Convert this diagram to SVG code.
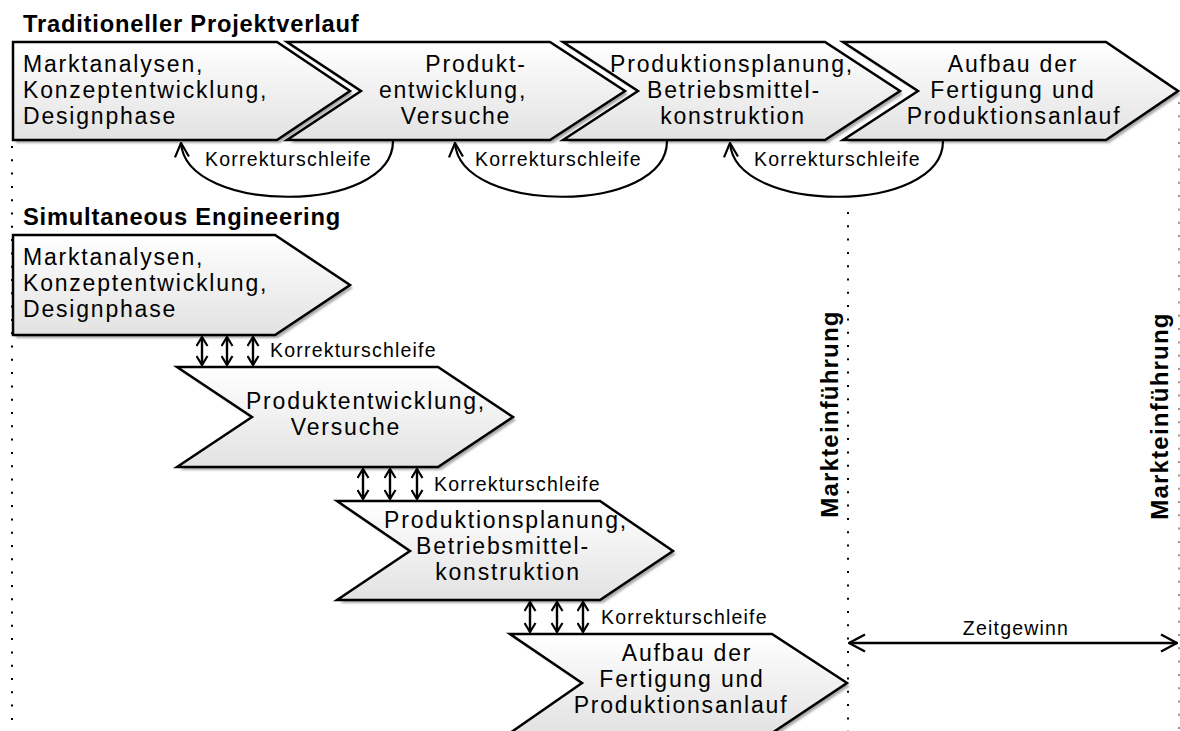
<svg xmlns="http://www.w3.org/2000/svg" width="1180" height="731" viewBox="0 0 1180 731">
  <style>
    .chev { fill: url(#chevFill); stroke: #000; stroke-width: 2.5; stroke-linejoin: miter; }
    .shadow { fill: #a8a8a8; filter: url(#soft); }
    .txt { font-family: "Liberation Sans", Arial, sans-serif; font-size: 23px; letter-spacing: 1.8px; fill: #000; }
    .mid { text-anchor: middle; }
    .small { font-family: "Liberation Sans", Arial, sans-serif; font-size: 19.5px; letter-spacing: 1.2px; fill: #000; }
    .head { font-family: "Liberation Sans", Arial, sans-serif; font-size: 23.7px; font-weight: bold; letter-spacing: 0.8px; fill: #000; }
    .vert { font-size: 24px; letter-spacing: 1.2px; }
    .dots { stroke: #000; stroke-width: 2; stroke-dasharray: 2 11.3; fill: none; }
    .loop { fill: none; stroke: #000; stroke-width: 2.2; }
    .dbl { stroke: #000; stroke-width: 2.4; marker-start: url(#tipS); marker-end: url(#tipS); }
  </style>
  <defs>
    <linearGradient id="chevFill" x1="0" y1="0" x2="0" y2="1">
      <stop offset="0" stop-color="#ffffff"/>
      <stop offset="1" stop-color="#e2e2e2"/>
    </linearGradient>
    <filter id="soft" x="-5%" y="-10%" width="110%" height="120%">
      <feGaussianBlur stdDeviation="1"/>
    </filter>
    <!-- open V arrowheads -->
    <marker id="tipS" viewBox="0 0 11 13" refX="10" refY="6.5" markerWidth="11" markerHeight="13" orient="auto-start-reverse" markerUnits="userSpaceOnUse">
      <path d="M1,1 L10,6.5 L1,12" fill="none" stroke="#000" stroke-width="2.2"/>
    </marker>
    <marker id="tipM" viewBox="0 0 16 16" refX="15" refY="8" markerWidth="16" markerHeight="16" orient="auto" markerUnits="userSpaceOnUse">
      <path d="M1,1 L15,8 L1,15" fill="none" stroke="#000" stroke-width="2.2"/>
    </marker>
    <marker id="tipL" viewBox="0 0 18 20" refX="17" refY="10" markerWidth="18" markerHeight="20" orient="auto-start-reverse" markerUnits="userSpaceOnUse">
      <path d="M1,1.5 L17,10 L1,18.5" fill="none" stroke="#000" stroke-width="2.4"/>
    </marker>
  </defs>

  <rect width="1180" height="731" fill="#fff"/>

  <!-- timeline guides -->
  <g id="guides">
    <line class="dots" x1="12" y1="146" x2="12" y2="731"/>
    <line class="dots" x1="848" y1="212" x2="848" y2="731"/>
    <line class="dots" x1="1179" y1="102" x2="1179" y2="731" style="stroke:#999"/>
  </g>

  <!-- section headings -->
  <text class="head" x="23" y="32">Traditioneller Projektverlauf</text>
  <text class="head" x="23" y="225">Simultaneous Engineering</text>

  <!-- traditional sequence -->
  <g id="t1">
    <polygon class="shadow" transform="translate(3,3)" points="13,42 277,42 350,91 277,140 13,140"/>
    <polygon class="chev" points="13,42 277,42 350,91 277,140 13,140"/>
    <text class="txt"><tspan x="23" y="71.5">Marktanalysen,</tspan><tspan x="23" y="97.5">Konzeptentwicklung,</tspan><tspan x="23" y="123.5">Designphase</tspan></text>
  </g>
  <g id="t2">
    <polygon class="shadow" transform="translate(3,3)" points="287,42 550,42 625,91 550,140 287,140 361,91"/>
    <polygon class="chev" points="287,42 550,42 625,91 550,140 287,140 361,91"/>
    <text class="txt mid"><tspan x="476" y="71.5">Produkt-</tspan><tspan x="453" y="97.5">entwicklung,</tspan><tspan x="456" y="123.5">Versuche</tspan></text>
  </g>
  <g id="t3">
    <polygon class="shadow" transform="translate(3,3)" points="563,42 825,42 900,91 825,140 563,140 638,91"/>
    <polygon class="chev" points="563,42 825,42 900,91 825,140 563,140 638,91"/>
    <text class="txt mid"><tspan x="732" y="71.5">Produktionsplanung,</tspan><tspan x="734" y="97.5">Betriebsmittel-</tspan><tspan x="733" y="123.5">konstruktion</tspan></text>
  </g>
  <g id="t4">
    <polygon class="shadow" transform="translate(3,3)" points="843,42 1106,42 1178,91 1106,140 843,140 918,91"/>
    <polygon class="chev" points="843,42 1106,42 1178,91 1106,140 843,140 918,91"/>
    <text class="txt mid"><tspan x="1013" y="71.5">Aufbau der</tspan><tspan x="1013" y="97.5">Fertigung und</tspan><tspan x="1014" y="123.5">Produktionsanlauf</tspan></text>
  </g>

  <!-- simultaneous sequence -->
  <g id="s1">
    <polygon class="shadow" transform="translate(3,3)" points="13,235 275,235 350,285 275,335 13,335"/>
    <polygon class="chev" points="13,235 275,235 350,285 275,335 13,335"/>
    <text class="txt"><tspan x="23" y="265">Marktanalysen,</tspan><tspan x="23" y="291">Konzeptentwicklung,</tspan><tspan x="23" y="317">Designphase</tspan></text>
  </g>
  <g id="s2">
    <polygon class="shadow" transform="translate(3,3)" points="177,367 438,367 513,417 438,467 177,467 252,417"/>
    <polygon class="chev" points="177,367 438,367 513,417 438,467 177,467 252,417"/>
    <text class="txt mid"><tspan x="366" y="409">Produktentwicklung,</tspan><tspan x="346" y="435">Versuche</tspan></text>
  </g>
  <g id="s3">
    <polygon class="shadow" transform="translate(3,3)" points="337,501 600,501 673,551 600,600 337,600 410,551"/>
    <polygon class="chev" points="337,501 600,501 673,551 600,600 337,600 410,551"/>
    <text class="txt mid"><tspan x="506" y="528">Produktionsplanung,</tspan><tspan x="503" y="554">Betriebsmittel-</tspan><tspan x="508" y="580">konstruktion</tspan></text>
  </g>
  <g id="s4">
    <polygon class="shadow" transform="translate(3,3)" points="510,634 772,634 847,683 772,733 510,733 582,683"/>
    <polygon class="chev" points="510,634 772,634 847,683 772,733 510,733 582,683"/>
    <text class="txt mid"><tspan x="687" y="661">Aufbau der</tspan><tspan x="682" y="687">Fertigung und</tspan><tspan x="681" y="713">Produktionsanlauf</tspan></text>
  </g>

  <!-- correction loops and links -->
  <g id="connectors">
    <path class="loop" marker-end="url(#tipM)" d="M393,141 C393,215 186,215 181,143"/>
    <path class="loop" marker-end="url(#tipM)" d="M667,141 C667,215 460,215 455,143"/>
    <path class="loop" marker-end="url(#tipM)" d="M943,141 C943,215 735,215 730,143"/>

    <line class="dbl" x1="202" y1="337" x2="202" y2="365"/>
    <line class="dbl" x1="227" y1="337" x2="227" y2="365"/>
    <line class="dbl" x1="253" y1="337" x2="253" y2="365"/>

    <line class="dbl" x1="363" y1="469" x2="363" y2="499"/>
    <line class="dbl" x1="390" y1="469" x2="390" y2="499"/>
    <line class="dbl" x1="417" y1="469" x2="417" y2="499"/>

    <line class="dbl" x1="530" y1="602" x2="530" y2="632"/>
    <line class="dbl" x1="557" y1="602" x2="557" y2="632"/>
    <line class="dbl" x1="583" y1="602" x2="583" y2="632"/>

    <line stroke="#000" stroke-width="2.4" marker-start="url(#tipL)" marker-end="url(#tipL)" x1="849" y1="643" x2="1177" y2="643"/>
  </g>

  <!-- connector labels -->
  <g id="labels">
    <text class="small" x="205" y="166">Korrekturschleife</text>
    <text class="small" x="475" y="166">Korrekturschleife</text>
    <text class="small" x="754" y="166">Korrekturschleife</text>
    <text class="small" x="270" y="357">Korrekturschleife</text>
    <text class="small" x="434" y="491">Korrekturschleife</text>
    <text class="small" x="601" y="624">Korrekturschleife</text>
    <text class="small mid" x="1016" y="635">Zeitgewinn</text>
  </g>

  <!-- market launch markers -->
  <text class="head vert mid" transform="translate(838,414) rotate(-90)">Markteinführung</text>
  <text class="head vert mid" transform="translate(1168,416) rotate(-90)">Markteinführung</text>
</svg>
